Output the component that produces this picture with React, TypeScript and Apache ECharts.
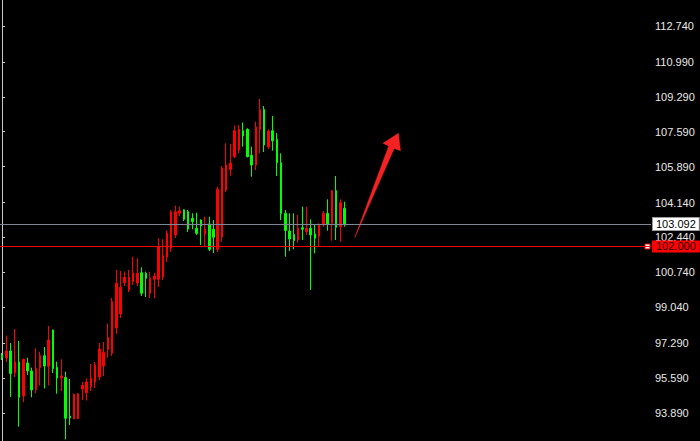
import React, { useEffect, useRef } from "react";
import * as echarts from "echarts";

// OHLC values (price units)
const opens = [
  96.714, 96.568, 96.909, 95.852, 96.374, 94.717, 96.325, 95.935, 95.034, 96.106,
  96.68, 96.164, 97.932, 96.115, 95.594, 95.62, 93.743, 93.612, 93.621, 95.058,
  94.878, 95.156, 95.399, 95.643, 96.179, 96.982, 96.797, 98.03, 98.712, 100.236,
  99.881, 100.285, 100.222, 100.723, 100.694, 99.72, 100.402, 100.402, 100.514, 101.488,
  101.926, 102.56, 103.617, 103.787, 103.695, 103.373, 102.886, 103.29, 102.608, 103.096,
  102.837, 101.863, 102.462, 104.752, 105.75, 106.383, 106.7, 107.64, 107.708, 106.442,
  105.969, 107.708, 108.673, 106.846, 107.64, 107.221, 106.081, 103.617, 102.755, 102.584,
  102.316, 102.915, 102.72, 102.886, 102.608, 102.511, 103.047, 103.617, 103.13, 104.718,
  102.964, 103.86,
];
const closes = [
  96.568, 96.909, 95.813, 96.374, 94.654, 96.505, 95.935, 95.01, 96.057, 96.68,
  96.179, 97.445, 96.057, 95.594, 95.692, 93.631, 93.646, 94.8, 94.815, 95.229,
  95.399, 95.594, 96.227, 97.007, 96.846, 97.567, 99.311, 100.207, 100.012, 100.499,
  100.499, 100.723, 100.694, 99.72, 100.451, 100.451, 100.563, 101.99, 101.561, 102.642,
  103.695, 103.695, 103.743, 103.324, 102.852, 103.208, 102.642, 102.998, 102.837, 101.863,
  102.448, 104.786, 105.823, 105.969, 106.067, 107.64, 107.708, 107.382, 106.374, 105.969,
  107.82, 108.683, 106.944, 107.626, 107.153, 106.081, 103.607, 102.779, 102.365, 102.282,
  102.886, 102.837, 102.886, 102.56, 102.399, 103.047, 103.617, 103.096, 104.718, 102.935,
  104.133, 103.092,
];
const lows = [
  96.471, 96.374, 94.669, 95.643, 93.222, 94.425, 95.74, 94.654, 94.849, 95.229,
  95.083, 95.229, 95.838, 94.829, 94.961, 92.599, 93.305, 93.573, 93.597, 94.523,
  94.498, 94.961, 95.107, 95.497, 95.692, 96.593, 96.666, 97.737, 98.517, 100.075,
  99.783, 100.124, 100.075, 99.588, 99.54, 99.491, 99.476, 100.027, 100.368, 101.245,
  101.732, 102.414, 103.485, 103.242, 102.706, 102.837, 102.56, 102.073, 102.024, 101.78,
  101.683, 101.732, 102.233, 104.654, 105.434, 106.31, 106.539, 106.861, 106.344, 105.399,
  105.726, 106.539, 106.603, 106.749, 106.666, 105.434, 103.29, 101.503, 101.78, 101.863,
  102.185, 102.316, 102.56, 99.881, 101.668, 102.024, 102.964, 102.769, 102.282, 102.316,
  102.233, 102.964,
];
const highs = [
  96.812, 97.655, 97.299, 97.981, 97.396, 96.534, 96.583, 96.096, 97.041, 96.875,
  97.104, 98.127, 97.95, 96.388, 96.505, 95.901, 95.545, 94.839, 94.864, 95.399,
  95.57, 96.276, 96.374, 97.299, 97.348, 98.249, 99.491, 100.855, 100.806, 100.772,
  100.855, 101.503, 101.425, 100.986, 100.772, 100.757, 100.723, 102.399, 102.35, 102.779,
  103.777, 103.987, 103.938, 103.812, 103.777, 103.617, 103.646, 103.324, 103.451, 103.451,
  103.29, 104.912, 105.921, 107.026, 106.992, 107.893, 107.918, 108.04, 107.757, 106.861,
  108.079, 109.194, 108.843, 107.708, 108.356, 107.528, 106.539, 103.777, 103.617, 103.617,
  103.534, 103.938, 103.938, 103.324, 103.047, 103.13, 103.729, 104.299, 104.752, 105.434,
  104.299, 104.182,
];

const slotCount = 154; // bar slots across the visible chart width
const categories = Array.from({ length: slotCount }, (_, i) => String(i));

const yTickValues = [
  93.89, 95.59, 97.29, 99.04, 100.74, 102.44, 104.14, 105.89, 107.59, 109.29, 110.99, 112.74,
];
const yMin = 92.525;
const yMax = 114.0065;

const currentPrice = 103.092;
const levelPrice = 102.0;

// annotation arrow, in [bar index, price]
const arrowPoints = [
  [83.44, 102.438],
  [91.45, 106.895],
  [90.08, 107.026],
  [93.75, 107.514],
  [94.23, 106.666],
  [92.74, 106.773],
];
const levelMarkerIndex = 152.67;

const FONT = "'Liberation Sans', Arial, sans-serif";

export default function App() {
  const ref = useRef<HTMLDivElement>(null);

  useEffect(() => {
    document.body.style.margin = "0";
    document.body.style.background = "#000";
    if (!ref.current) return;
    const chart = echarts.init(ref.current, undefined, { renderer: "svg" });

    const candleData = opens.map((o, i) => [o, closes[i], lows[i], highs[i]]);

    chart.setOption({
      animation: false,
      backgroundColor: "#000000",
      grid: { left: -3, right: 49, top: 0, bottom: 0, containLabel: false },
      xAxis: [
        {
          type: "category",
          data: categories,
          boundaryGap: true,
          show: false,
        },
        {
          type: "value",
          min: -0.5,
          max: slotCount - 0.5,
          show: false,
        },
      ],
      yAxis: {
        type: "value",
        position: "right",
        min: yMin,
        max: yMax,
        scale: true,
        splitLine: { show: false },
        axisLine: { show: true, lineStyle: { color: "#c8c8c8", width: 1 } },
        axisTick: {
          show: true,
          length: 3,
          customValues: yTickValues,
          lineStyle: { color: "#c8c8c8" },
        },
        axisLabel: {
          show: true,
          customValues: yTickValues,
          margin: 4,
          color: "#e8e8e8",
          fontSize: 11,
          fontFamily: FONT,
          formatter: (v: number) => v.toFixed(3),
        },
      },
      series: [
        {
          type: "candlestick",
          xAxisIndex: 0,
          yAxisIndex: 0,
          data: candleData,
          barWidth: 2,
          clip: false,
          itemStyle: {
            color: "#ff0000",
            color0: "#00ff00",
            borderColor: "#ff0000",
            borderColor0: "#00ff00",
            borderWidth: 1,
          },
          markLine: {
            silent: true,
            symbol: ["none", "none"],
            animation: false,
            data: [
              {
                yAxis: currentPrice,
                lineStyle: { color: "#7d8795", width: 1, type: "solid" },
                label: {
                  show: true,
                  position: "end",
                  distance: 2,
                  formatter: currentPrice.toFixed(3),
                  backgroundColor: "#ffffff",
                  borderColor: "#9a9a9a",
                  borderWidth: 1,
                  color: "#000000",
                  padding: [1, 3, 0, 3],
                  fontSize: 11,
                  fontFamily: FONT,
                },
              },
              {
                yAxis: levelPrice,
                lineStyle: { color: "#ff0000", width: 1, type: "solid" },
                label: {
                  show: true,
                  position: "end",
                  distance: 1,
                  formatter: levelPrice.toFixed(3),
                  backgroundColor: "#ff0000",
                  color: "#1a0000",
                  padding: [1, 4, 0, 4],
                  fontSize: 11,
                  fontFamily: FONT,
                },
              },
            ],
          },
        },
        {
          type: "custom",
          xAxisIndex: 1,
          yAxisIndex: 0,
          silent: true,
          clip: false,
          data: [[0, currentPrice]],
          renderItem: (params: any, api: any) => {
            const pts = arrowPoints.map((p) => api.coord(p));
            const m = api.coord([levelMarkerIndex, levelPrice]);
            return {
              type: "group",
              children: [
                {
                  type: "polygon",
                  shape: { points: pts },
                  style: { fill: "#f42222", stroke: "#f42222", lineWidth: 0.5 },
                },
                {
                  type: "rect",
                  shape: { x: m[0] - 2.5, y: m[1] - 2.5, width: 5, height: 5 },
                  style: { fill: "#ffffff", stroke: "#ff0000", lineWidth: 1 },
                },
              ],
            };
          },
        },
      ],
    });

    return () => chart.dispose();
  }, []);

  return (
    <div
      ref={ref}
      style={{ position: "fixed", left: 0, top: 0, width: 700, height: 441, background: "#000" }}
    />
  );
}
